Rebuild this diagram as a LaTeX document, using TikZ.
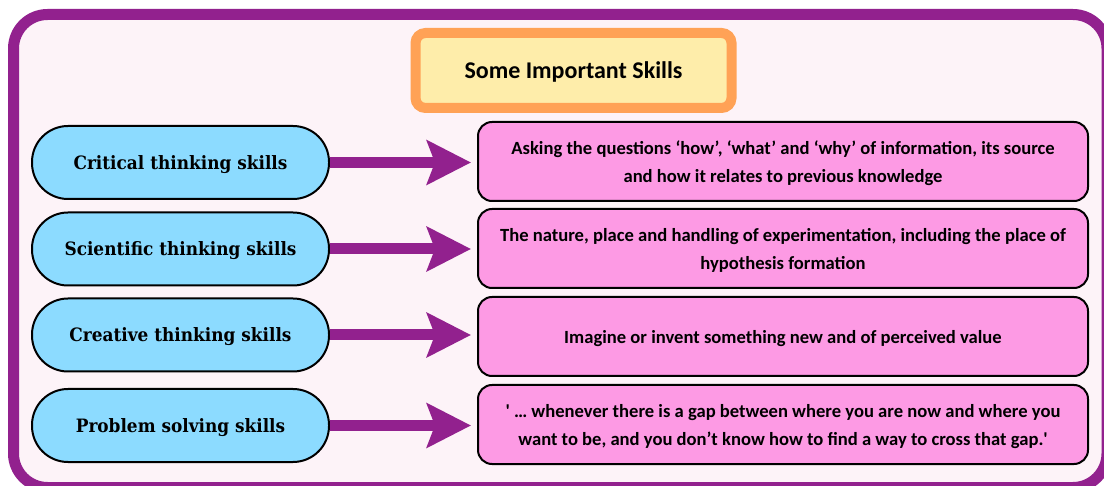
\documentclass[tikz,border=0pt]{standalone}
\usepackage{fontspec}
\setmainfont{Carlito}
\newfontfamily\slabfont{DejaVu Serif}[FakeStretch=0.92]
\usetikzlibrary{arrows.meta, positioning}
\definecolor{colorFrame}{HTML}{92218E}
\definecolor{fillPanel}{HTML}{FDF3F8}
\definecolor{colorTitleLine}{HTML}{FFA256}
\definecolor{fillTitle}{HTML}{FEEDAA}
\definecolor{fillSkill}{HTML}{8CDBFF}
\definecolor{fillDesc}{HTML}{FD9AE4}
% straight quote, past the tex-text mapping
\newcommand\straightq{\XeTeXglyph\XeTeXcharglyph"27\relax}

\begin{document}
\begin{tikzpicture}[x=0.5pt, y=-0.5pt,
        title/.style={draw=colorTitleLine, line width=5pt, fill=fillTitle, rounded corners=5pt,
            minimum width=158pt, minimum height=37.5pt, text depth=0pt,
            font=\fontsize{12}{14}\selectfont\bfseries},
        skill/.style={draw=black, line width=1pt, fill=fillSkill, rounded corners=18pt,
            minimum width=148.5pt, minimum height=36.5pt, text depth=0pt,
            font=\slabfont\fontsize{9.2}{11}\selectfont\bfseries},
        desc/.style={draw=black, line width=1pt, fill=fillDesc, rounded corners=7pt,
            minimum width=305pt, minimum height=39.5pt, align=center, text depth=0pt,
            font=\fontsize{9.3}{14}\selectfont\bfseries},
        link/.style={-{Stealth[length=22pt, width=22pt, inset=4pt]}, line width=5.5pt,
            colorFrame, shorten >=3pt}]
        \useasboundingbox (0,0) rectangle (1104,486);
        \clip (0,0) rectangle (1104,486);
        \draw[colorFrame, line width=5.5pt, fill=fillPanel, rounded corners=17pt]
            (13.5,14.5) rectangle (1107,487.5);
        \node[title] (head) at (573.5,70.5) {Some Important Skills};
        \node[skill] (p1) at (180.5,162.5) {Critical thinking skills};
        \node[skill] (p2) at (180.5,249)   {Scientific thinking skills};
        \node[skill] (p3) at (180.5,335)   {Creative thinking skills};
        \node[skill] (p4) at (180.5,425.5) {Problem solving skills};
        \node[desc] (d1) at (783,161.5) {Asking the questions ‘how’, ‘what’ and ‘why’ of information, its source\\and how it relates to previous knowledge};
        \node[desc] (d2) at (783,248.5) {The nature, place and handling of experimentation, including the place of\\hypothesis formation};
        \node[desc] (d3) at (783,336.5) {Imagine or invent something new and of perceived value};
        \node[desc] (d4) at (783,424.5) {\straightq{} … whenever there is a gap between where you are now and where you\\want to be, and you don’t know how to find a way to cross that gap.\straightq};
        \foreach \n in {1,2,3,4} \draw[link] (p\n.east) -- (p\n.east -| d\n.west);
    \end{tikzpicture}
\end{document}
